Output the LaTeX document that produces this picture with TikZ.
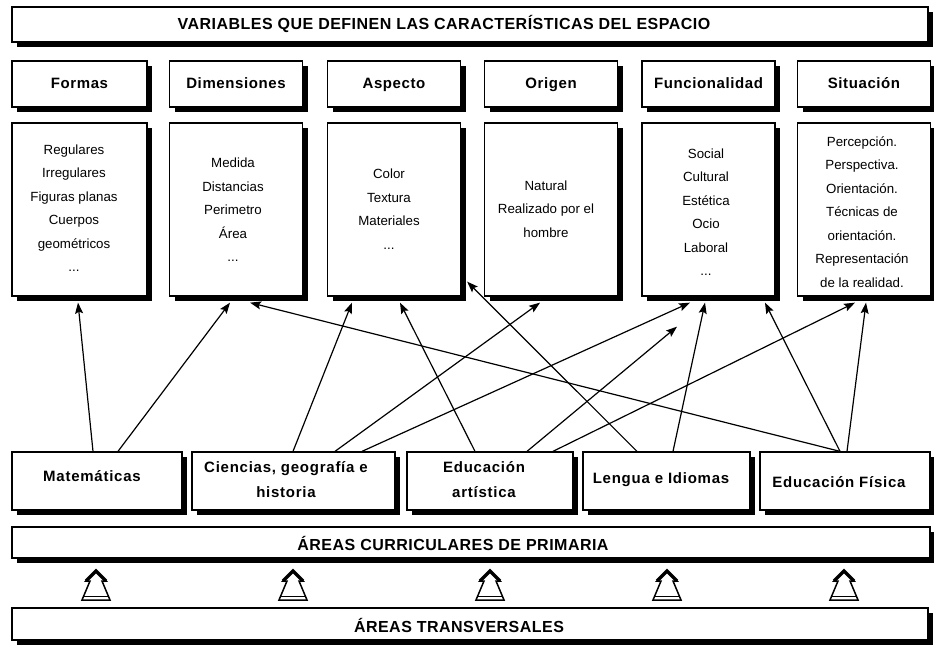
\documentclass[tikz,border=0pt]{standalone}
\usepackage{fontspec}
\setmainfont{Liberation Sans}
\usetikzlibrary{arrows.meta,shadows}
\begin{document}
\begin{tikzpicture}[x=1pt,y=-1pt,
  box/.style={draw, line width=1.3pt, fill=white, inner sep=0pt,
    drop shadow={shadow xshift=5pt, shadow yshift=-5pt, fill=black, opacity=1}},
  bigtxt/.style={font=\fontsize{16}{18}\selectfont\bfseries\addfontfeatures{LetterSpace=3}, inner sep=0pt},
  hdrtxt/.style={font=\fontsize{15}{18}\selectfont\bfseries\addfontfeatures{LetterSpace=4}, text height=11pt, text depth=3pt},
  subtxt/.style={font=\fontsize{15}{25}\selectfont\bfseries\addfontfeatures{LetterSpace=5}, align=center, inner sep=0pt},
  listtxt/.style={align=center, font=\fontsize{13.3}{23.5}\selectfont, inner sep=0pt},
  con/.style={line width=1.2pt, -{Stealth[length=11pt,width=8pt,inset=2pt]}},
  hollowup/.pic={
    \draw[line width=1.5pt, fill=white, line join=miter] (0,-15) -- (10,-5) -- (6,-5) -- (14,14) -- (-14,14) -- (-6,-5) -- (-10,-5) -- cycle;
    \draw[line width=3.5pt, line join=miter] (-10,-5) -- (0,-15) -- (10,-5);
    \draw[line width=0.8pt] (-12,10.5) -- (12,10.5);
  }]
\useasboundingbox (0,0) rectangle (934,648);
\fill[white] (0,0) rectangle (934,648);

% title banner
\node[box, minimum width=916pt, minimum height=35pt] (title) at (470,24.5) {};
\node[bigtxt] (titletxt) at (444,24) {VARIABLES QUE DEFINEN LAS CARACTERÍSTICAS DEL ESPACIO};

% header boxes
\node[box, hdrtxt, minimum width=135pt, minimum height=46pt] (hF) at (79.5,84) {Formas};
\node[box, hdrtxt, minimum width=133pt, minimum height=46pt] (hD) at (236,84) {Dimensiones};
\node[box, hdrtxt, minimum width=133pt, minimum height=46pt] (hA) at (394,84) {Aspecto};
\node[box, hdrtxt, minimum width=133pt, minimum height=46pt] (hO) at (551,84) {Origen};
\node[box, hdrtxt, minimum width=133pt, minimum height=46pt] (hFu) at (708.5,84) {Funcionalidad};
\node[box, hdrtxt, minimum width=133pt, minimum height=46pt] (hS) at (864,84) {Situación};

% content boxes
\node[box, minimum width=135pt, minimum height=173pt] (cF) at (79.5,209.5) {};
\node[box, minimum width=133pt, minimum height=173pt] (cD) at (236,209.5) {};
\node[box, minimum width=133pt, minimum height=173pt] (cA) at (394,209.5) {};
\node[box, minimum width=133pt, minimum height=173pt] (cO) at (551,209.5) {};
\node[box, minimum width=133pt, minimum height=173pt] (cFu) at (708.5,209.5) {};
\node[box, minimum width=133pt, minimum height=173pt] (cS) at (864,209.5) {};

\node[listtxt] (tF) at (74,208) {Regulares\\Irregulares\\Figuras planas\\Cuerpos\\geométricos\\...};
\node[listtxt] (tD) at (233,210) {Medida\\Distancias\\Perimetro\\Área\\...};
\node[listtxt] (tA) at (389,209) {Color\\Textura\\Materiales\\...};
\node[listtxt] (tO) at (546,209) {Natural\\Realizado por el\\hombre};
\node[listtxt] (tFu) at (706,212) {Social\\Cultural\\Estética\\Ocio\\Laboral\\...};
\node[listtxt] (tS) at (862,212) {Percepción.\\Perspectiva.\\Orientación.\\Técnicas de\\orientación.\\Representación\\de la realidad.};

% subject boxes
\node[box, minimum width=170pt, minimum height=58pt] (mat) at (97,481) {};
\node[box, minimum width=203pt, minimum height=58pt] (cie) at (293.5,481) {};
\node[box, minimum width=166pt, minimum height=58pt] (art) at (490,481) {};
\node[box, minimum width=167pt, minimum height=58pt] (len) at (666.5,481) {};
\node[box, minimum width=170pt, minimum height=58pt] (fis) at (845,481) {};

\node[subtxt] (matt) at (92,476) {Matemáticas};
\node[subtxt] (ciet) at (286,480) {Ciencias, geografía e\\historia};
\node[subtxt] (artt) at (484,480) {Educación\\artística};
\node[subtxt] (lent) at (661,480) {Lengua e Idiomas};
\node[subtxt] (fist) at (839,482) {Educación Física};

% bottom banners
\node[box, minimum width=918pt, minimum height=31pt] (curr) at (471,542.5) {};
\node[bigtxt] (currt) at (453,543) {ÁREAS CURRICULARES DE PRIMARIA};
\node[box, minimum width=916pt, minimum height=32pt] (trans) at (470,624) {};
\node[bigtxt] (transt) at (459,625) {ÁREAS TRANSVERSALES};

% hollow arrows
\pic at (96,586) {hollowup};
\pic at (293,586) {hollowup};
\pic at (490,586) {hollowup};
\pic at (667,586) {hollowup};
\pic at (844,586) {hollowup};

% connectors
\draw[con] ([xshift=-4pt]mat.north) -- ([xshift=-1.5pt,yshift=-6pt]cF.south);
\draw[con] ([xshift=21pt]mat.north) -- ([xshift=-6pt,yshift=-6pt]cD.south);
\draw[con] ([xshift=-5pt]fis.north) -- ([xshift=14pt,yshift=-6pt]cD.south);
\draw[con] ([xshift=-0.5pt]cie.north) -- ([xshift=-42pt,yshift=-6pt]cA.south);
\draw[con] ([xshift=-15pt]art.north) -- ([xshift=6pt,yshift=-6pt]cA.south);
\draw[con] ([xshift=-29.5pt]len.north) -- ([xshift=6pt,yshift=15pt]cA.south east);
\draw[con] ([xshift=41.5pt]cie.north) -- ([xshift=-11pt,yshift=-6pt]cO.south);
\draw[con] ([xshift=68.5pt]cie.north) -- ([xshift=-18.5pt,yshift=-6pt]cFu.south);
\draw[con] ([xshift=37pt]art.north) -- ([xshift=-31.5pt,yshift=-30pt]cFu.south);
\draw[con] ([xshift=6.5pt]len.north) -- ([xshift=-3.5pt,yshift=-6pt]cFu.south);
\draw[con] ([xshift=-5pt]fis.north) -- ([xshift=56.5pt,yshift=-6pt]cFu.south);
\draw[con] ([xshift=63pt]art.north) -- ([xshift=-9pt,yshift=-6pt]cS.south);
\draw[con] ([xshift=2pt]fis.north) -- ([xshift=2pt,yshift=-6pt]cS.south);
\end{tikzpicture}
\end{document}
